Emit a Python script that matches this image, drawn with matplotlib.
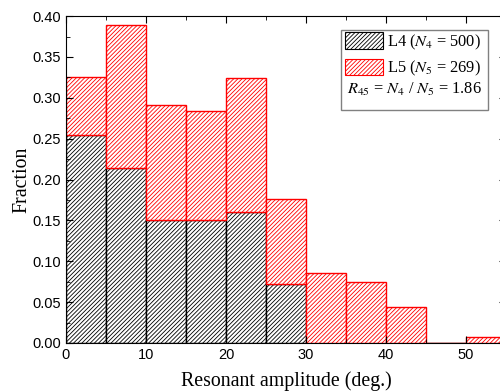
import numpy as np
import matplotlib as mpl
mpl.use('Agg')
import matplotlib.pyplot as plt
from matplotlib.patches import Patch, Rectangle

# bin left edges (deg.) and fractions
edges = [0, 5, 10, 15, 20, 25, 30, 35, 40, 45, 50]
l4_frac = [0.254, 0.214, 0.150, 0.150, 0.160, 0.072, 0, 0, 0, 0, 0]
l5_frac = [0.071, 0.175, 0.141, 0.134, 0.164, 0.104, 0.0856, 0.0746, 0.044, 0, 0.0074]

plt.rcParams['mathtext.fontset'] = 'stix'
plt.rcParams['hatch.linewidth'] = 0.6

fig = plt.figure(figsize=(5, 3.92), dpi=100)
ax = fig.add_axes([0.132, 0.125, 0.88, 0.834])

ax.bar(edges, l4_frac, width=5, align='edge', color='white', edgecolor='black',
       hatch='////////', linewidth=1.0)
ax.bar(edges, l5_frac, width=5, align='edge', bottom=l4_frac, color='white',
       edgecolor='red', hatch='////////', linewidth=1.0)

ax.set_xlim(0, 55)
ax.set_ylim(0, 0.40)
ax.set_xticks([0, 10, 20, 30, 40, 50])
ax.set_xticks(np.arange(5, 56, 10), minor=True)
ax.set_yticks(np.arange(0, 0.401, 0.05))
ax.set_yticks(np.arange(0.025, 0.4, 0.05), minor=True)
ax.yaxis.set_major_formatter(mpl.ticker.FormatStrFormatter('%.2f'))
ax.tick_params(which='both', direction='in', top=True, right=True)
ax.tick_params(which='major', length=5)
ax.tick_params(which='minor', length=3)
for lab in ax.get_xticklabels() + ax.get_yticklabels():
    lab.set_fontfamily('Liberation Sans')
    lab.set_fontsize(10.5)

ax.set_xlabel('Resonant amplitude (deg.)', family='Liberation Serif', fontsize=14.3, labelpad=7)
ax.set_ylabel('Fraction', family='Liberation Serif', fontsize=14.3, labelpad=1)

handles = [Patch(facecolor='white', edgecolor='black', hatch='////////', linewidth=0.8),
           Patch(facecolor='white', edgecolor='red', hatch='////////', linewidth=0.8)]
labels = [r'L4 ($N_4$ = 500)', r'L5 ($N_5$ = 269)']
leg = ax.legend(handles, labels, loc='upper left', bbox_to_anchor=(0.624, 0.965),
                frameon=False, prop={'family': 'Liberation Serif', 'size': 11.8},
                handlelength=2.3, handleheight=1.15, handletextpad=0.25,
                labelspacing=0.45, borderaxespad=0, borderpad=0.3)
ax.text(0.792, 0.775, r'$R_{45}$ = $N_4$ / $N_5$ = 1.86', transform=ax.transAxes,
        ha='center', va='center', family='Liberation Serif', fontsize=11.8)
ax.add_patch(Rectangle((0.624, 0.7125), 0.335, 0.2435, transform=ax.transAxes,
                       fill=False, edgecolor='gray', linewidth=1.0, zorder=5))

fig.savefig('out.png', dpi=100)
